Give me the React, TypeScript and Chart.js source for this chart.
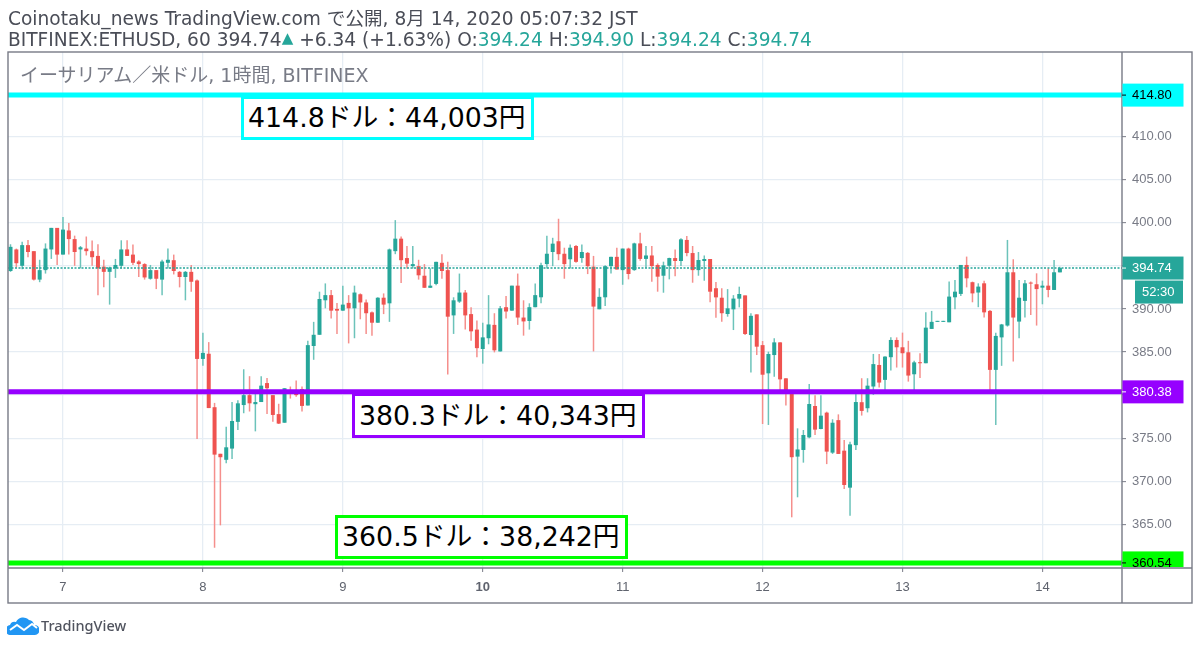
import React, { useEffect, useRef } from "react";
import Chart from "chart.js/auto";

const opens = [394.4,396.9,395.0,397.4,396.7,393.4,394.5,396.9,399.4,396.3,399.1,398.1,396.9,397.0,396.7,396.15,394.9,394.3,394.7,395.0,396.9,396.3,395.5,395.2,393.5,394.5,393.4,395.35,395.65,394.3,393.7,394.3,393.3,384.2,384.8,378.6,373.2,372.5,373.8,376.9,378.85,380.0,378.95,379.2,381.4,380.0,377.8,376.8,380.6,380.6,380.7,378.8,385.7,387.0,391.0,391.6,390.0,389.8,390.7,390.07,391.7,390.75,389.6,388.4,391.3,390.65,396.7,398.15,395.9,394.96,394.96,393.85,392.45,392.9,395.35,394.5,389.25,390.85,391.9,389.4,387.6,385.35,386.6,388.15,385.07,390.2,389.8,392.7,389.0,388.6,390.2,391.35,395.2,396.6,397.85,396.4,395.76,397.3,395.9,396.5,394.9,389.96,391.35,394.96,396.04,394.5,397.0,394.5,397.6,395.8,396.2,395.1,393.85,395.0,395.9,395.56,398.0,396.48,394.5,395.56,395.79,392.4,391.3,389.41,389.95,391.19,391.57,386.97,389.37,385.8,382.53,384.65,386.12,381.95,380.13,372.87,373.64,375.1,378.74,376.07,377.97,373.33,377.1,373.56,369.27,374.2,379.18,378.48,381.0,383.5,381.77,384.4,386.4,385.55,384.97,382.42,383.78,383.7,387.68,388.5,388.5,388.45,391.35,391.74,395.1,393.1,391.9,392.97,389.77,382.93,386.7,388.07,394.25,388.53,390.93,393.05,392.86,392.47,392.7,392.2,394.24];
const closes = [397.2,395.3,397.4,396.6,393.4,394.5,397.0,399.4,396.3,399.2,398.1,396.6,397.15,396.7,396.0,394.7,394.3,394.8,395.1,396.9,396.15,395.35,395.2,393.65,394.5,393.5,395.5,395.7,394.4,393.7,394.3,393.15,384.2,384.9,378.5,373.1,372.8,373.95,377.0,379.05,380.0,379.05,379.2,381.1,380.8,377.7,376.7,380.8,380.3,380.0,378.75,385.8,387.0,391.15,391.6,389.8,389.8,390.5,390.07,391.9,390.75,389.5,388.4,391.3,390.5,396.9,398.15,395.65,395.25,395.2,393.9,392.45,392.7,395.46,394.4,389.1,391.0,391.9,389.25,387.4,385.45,386.7,388.2,385.2,390.07,389.7,392.7,389.0,388.55,390.2,391.6,395.07,396.4,397.57,396.35,395.2,397.1,395.46,396.6,394.96,390.27,391.4,394.96,396.04,394.57,397.0,394.05,397.6,395.8,396.2,394.97,393.74,395.05,395.9,395.56,398.07,396.48,394.5,395.67,395.79,392.0,391.34,389.5,390.07,391.2,391.73,387.09,389.2,385.62,382.37,384.77,386.12,381.83,380.4,372.8,373.7,375.38,378.97,376.0,377.62,373.45,376.8,373.18,369.58,374.29,379.2,378.17,381.1,383.6,381.46,384.47,386.4,385.55,384.86,382.27,383.8,383.7,387.83,388.5,388.5,388.5,391.43,392.0,395.1,393.55,391.8,392.59,389.6,382.93,386.87,388.2,394.25,389.0,391.3,392.97,392.94,392.3,392.7,392.2,394.25,394.74];
const highs = [397.5,397.0,397.8,398.0,396.7,395.7,397.6,399.4,399.4,400.65,399.96,398.5,397.3,398.4,397.95,397.5,395.7,394.9,395.8,397.96,397.96,397.46,395.65,395.3,395.1,394.5,395.7,397.0,396.3,394.4,394.4,395.1,393.4,387.25,386.15,379.1,373.2,376.34,379.2,379.4,383.0,382.2,380.6,382.2,382.0,380.0,379.0,380.8,381.0,381.7,381.0,386.3,388.5,392.0,392.96,392.2,390.7,392.7,391.6,392.7,391.8,391.1,389.7,391.35,391.8,397.0,400.3,398.4,397.3,397.3,395.7,395.2,394.7,395.46,396.35,395.46,391.35,394.1,392.2,390.2,388.65,388.4,391.6,389.5,390.35,391.5,392.7,394.1,391.0,390.65,392.96,395.35,398.5,398.25,400.46,397.1,397.46,397.4,397.46,396.6,396.15,392.4,395.07,396.04,397.1,397.0,397.1,397.68,398.84,397.3,397.3,395.28,395.48,395.94,396.9,398.2,398.45,397.3,396.6,396.2,395.79,393.12,392.4,392.3,391.6,392.58,391.57,389.49,389.37,386.28,385.04,386.59,386.12,381.95,380.2,376.15,375.96,381.29,380.0,380.0,378.08,377.2,377.77,374.8,374.6,380.2,381.96,381.96,384.78,384.78,384.5,386.7,386.7,387.25,386.3,384.0,384.86,389.6,389.77,388.5,388.5,393.17,393.36,395.1,396.07,393.17,392.97,393.28,389.88,387.25,388.26,398.0,395.76,393.36,393.36,393.17,394.13,393.28,394.7,395.68,394.9];
const lows = [394.3,394.8,394.6,396.0,393.3,393.1,394.1,395.8,395.1,396.3,396.3,395.0,394.7,396.2,395.0,391.6,392.5,390.5,393.6,394.7,396.15,395.1,393.7,393.4,393.4,392.3,391.6,394.7,394.0,392.5,391.0,392.0,374.9,383.4,378.5,362.3,364.9,372.1,372.6,375.95,377.9,378.1,375.8,379.2,377.8,376.9,376.65,376.8,379.6,379.8,378.1,378.8,384.1,387.0,390.07,388.9,387.1,389.8,386.0,386.6,388.8,387.1,386.9,388.4,389.4,388.5,396.35,393.0,394.7,394.7,393.4,392.45,392.45,392.75,393.5,382.4,387.1,390.7,387.6,386.3,384.4,383.65,385.9,384.96,385.07,388.9,389.8,388.15,386.9,387.6,390.2,390.65,394.7,394.96,395.65,393.5,394.7,395.35,395.35,394.04,385.07,389.96,390.35,394.1,394.57,392.8,393.43,394.43,395.6,394.78,393.16,392.0,391.88,393.43,393.8,394.98,396.1,393.04,393.85,393.27,390.76,388.98,388.5,389.1,387.55,390.18,386.97,382.64,384.65,376.65,376.54,382.14,380.6,378.8,365.83,368.15,372.17,374.99,375.38,376.03,372.0,373.18,373.18,369.1,366.0,373.64,377.63,378.0,380.03,380.9,380.6,382.85,383.2,383.2,381.57,380.6,382.0,383.7,387.68,388.5,388.5,388.45,389.96,391.5,392.5,390.77,390.2,389.0,380.6,376.55,383.4,387.95,383.9,386.6,389.0,389.3,388.07,390.54,391.35,392.2,394.24];

const dayLabels = ["7", "8", "9", "10", "11", "12", "13", "14"];
const dayCandleIndex = [9, 33, 57, 81, 105, 129, 153, 177];
const boldDay = "10";
const priceTicks = [365, 370, 375, 380, 385, 390, 395, 400, 405, 410, 415];

const levelValues = [414.8, 380.38, 360.54];
const levelColors = ["#00ffff", "#9600ff", "#00ff00"];
const levelTextColors = ["#000000", "#ffffff", "#000000"];
const lastPrice = 394.74;
const countdown = "52:30";

const UP = "#26a69a";
const DOWN = "#ef5350";
const UP_WICK = "#6cc3ba";
const DOWN_WICK = "#f58f8c";
const FRAME = "#787b86";
const GRID = "#e6edf4";

const X_MIN = -0.43;
const X_MAX = 190.65;

const boxes = [
  { text: "414.8ドル：44,003円", color: "#00ffff", left: 241, top: 96, width: 293, height: 44 },
  { text: "380.3ドル：40,343円", color: "#9600ff", left: 352, top: 393, width: 293, height: 45 },
  { text: "360.5ドル：38,242円", color: "#00ff00", left: 335, top: 515, width: 293, height: 44 },
];

const framePlugin = {
  id: "frame",
  afterDraw(chart: any) {
    const { ctx, chartArea, scales } = chart;
    ctx.save();
    ctx.strokeStyle = FRAME;
    ctx.lineWidth = 1.4;
    ctx.strokeRect(8, chartArea.top, 1184, 603 - chartArea.top);
    ctx.beginPath();
    ctx.moveTo(chartArea.right, chartArea.top);
    ctx.lineTo(chartArea.right, 603);
    ctx.moveTo(8, chartArea.bottom);
    ctx.lineTo(1192, chartArea.bottom);
    ctx.stroke();

    const tag = (value: number, label: string, bg: string, fg: string) => {
      const y = scales.y.getPixelForValue(value);
      ctx.save();
      ctx.beginPath();
      ctx.rect(chartArea.right, chartArea.top, 71, chartArea.bottom - chartArea.top - 1);
      ctx.clip();
      ctx.fillStyle = bg;
      ctx.fillRect(chartArea.right + 0.5, y - 11.5, 61, 23);
      ctx.strokeStyle = fg === "#ffffff" ? "#ffffff" : "#000000";
      ctx.lineWidth = 1;
      ctx.beginPath();
      ctx.moveTo(chartArea.right, y);
      ctx.lineTo(chartArea.right + 4, y);
      ctx.stroke();
      ctx.fillStyle = fg;
      ctx.font = "13px 'Liberation Sans'";
      ctx.textBaseline = "middle";
      ctx.textAlign = "left";
      ctx.fillText(label, chartArea.right + 10, y + 0.5);
      ctx.restore();
    };
    levelValues.forEach((v, i) => tag(v, v.toFixed(2), levelColors[i], levelTextColors[i]));
    tag(lastPrice, lastPrice.toFixed(2), UP, "#ffffff");

    const yLast = scales.y.getPixelForValue(lastPrice);
    ctx.fillStyle = UP;
    ctx.fillRect(chartArea.right + 13, yLast + 12.5, 48, 23);
    ctx.fillStyle = "#ffffff";
    ctx.font = "13px 'Liberation Sans'";
    ctx.textBaseline = "middle";
    ctx.textAlign = "left";
    ctx.fillText(countdown, chartArea.right + 20, yLast + 24.5);
    ctx.restore();
  },
};

export default function App() {
  const ref = useRef<HTMLCanvasElement>(null);
  useEffect(() => {
    const candleIdx = opens.map((_, i) => i);
    const bodyColors = opens.map((o, i) => (closes[i] >= o ? UP : DOWN));
    const wickColors = opens.map((o, i) => (closes[i] >= o ? UP_WICK : DOWN_WICK));
    const hLine = (v: number, color: string, width: number, dash: number[] = []) => ({
      type: "line" as const,
      data: [{ x: X_MIN, y: v }, { x: X_MAX, y: v }],
      borderColor: color,
      borderWidth: width,
      borderDash: dash,
      pointRadius: 0,
      order: 1,
    });
    const chart = new Chart(ref.current!, {
      type: "bar",
      data: {
        datasets: [
          {
            data: candleIdx.map((i) => ({ x: i, y: [lows[i], highs[i]] })),
            backgroundColor: wickColors,
            grouped: false,
            maxBarThickness: 1.5,
            minBarLength: 1,
            order: 3,
          } as any,
          {
            data: candleIdx.map((i) => ({ x: i, y: [opens[i], closes[i]] })),
            backgroundColor: bodyColors,
            grouped: false,
            maxBarThickness: 4,
            minBarLength: 1,
            order: 2,
          } as any,
          hLine(lastPrice, UP, 1.5, [2, 1.5]),
          ...levelValues.map((v, i) => hLine(v, levelColors[i], 5)),
        ],
      },
      plugins: [framePlugin],
      options: {
        responsive: false,
        animation: false,
        events: [],
        layout: { padding: { left: 8, top: 52, right: 0, bottom: 0 } },
        plugins: { legend: { display: false }, tooltip: { enabled: false } },
        scales: {
          x: {
            type: "linear",
            offset: false,
            min: X_MIN,
            max: X_MAX,
            grid: { offset: false, color: GRID, lineWidth: 1.3, tickColor: FRAME, tickLength: 4, tickWidth: 1 },
            border: { display: false },
            afterBuildTicks: (s: any) => {
              s.ticks = dayCandleIndex.map((v) => ({ value: v }));
            },
            afterFit: (s: any) => {
              s.height = 79;
            },
            ticks: {
              autoSkip: false,
              maxRotation: 0,
              padding: 8,
              color: "#5f636e",
              font: (ctx: any) => ({
                family: "'Liberation Sans'",
                size: 13,
                weight: dayLabels[ctx.index] === boldDay ? "bold" : "normal",
              }),
              callback: (_: any, i: number) => dayLabels[i],
            },
          },
          y: {
            position: "right",
            min: 359.95,
            max: 419.8,
            grid: { color: GRID, lineWidth: 1.3, tickColor: FRAME, tickLength: 4, tickWidth: 1 },
            border: { display: false },
            afterBuildTicks: (s: any) => {
              s.ticks = priceTicks.map((v) => ({ value: v }));
            },
            afterFit: (s: any) => {
              s.width = 78;
            },
            ticks: {
              padding: 6,
              color: "#787b86",
              font: { family: "'Liberation Sans'", size: 13 },
              callback: (v: any) => Number(v).toFixed(2),
            },
          },
        },
      } as any,
    });
    return () => chart.destroy();
  }, []);

  const head: React.CSSProperties = {
    position: "absolute",
    left: 8,
    whiteSpace: "nowrap",
    fontFamily: "'DejaVu Sans','Noto Sans CJK JP',sans-serif",
    fontSize: 18.6,
    lineHeight: "20px",
    color: "#4a4d57",
  };
  const teal = { color: UP };
  return (
    <div style={{ position: "absolute", left: 0, top: 0, width: 1200, height: 647, background: "#fff", overflow: "hidden" }}>
      <canvas ref={ref} width={1200} height={647} style={{ position: "absolute", left: 0, top: 0, display: "block" }} />
      <div style={{ ...head, top: 9 }}>Coinotaku_news TradingView.com で公開, 8月 14, 2020 05:07:32 JST</div>
      <div style={{ ...head, top: 28 }}>
        BITFINEX:ETHUSD, 60 394.74<span style={{ ...teal, fontSize: 15, verticalAlign: 3 }}>▲</span> +6.34 (+1.63%) O:<span style={teal}>394.24</span> H:<span style={teal}>394.90</span> L:<span style={teal}>394.24</span> C:<span style={teal}>394.74</span>
      </div>
      <div style={{ ...head, left: 20, top: 65, fontSize: 19, color: "#787b86" }}>イーサリアム／米ドル, 1時間, BITFINEX</div>
      {boxes.map((b) => (
        <div
          key={b.text}
          style={{
            position: "absolute",
            left: b.left,
            top: b.top,
            width: b.width,
            height: b.height,
            boxSizing: "border-box",
            border: `3px solid ${b.color}`,
            background: "#fff",
            color: "#000",
            fontFamily: "'DejaVu Sans','Noto Sans CJK JP',sans-serif",
            fontSize: 26.8,
            lineHeight: `${b.height - 6}px`,
            paddingLeft: 4,
            whiteSpace: "nowrap",
          }}
        >
          {b.text}
        </div>
      ))}
      <svg style={{ position: "absolute", left: 7, top: 615 }} width={32} height={20} viewBox="0 0 32 20">
        <path d="M4 20 A5 5 0 0 1 3 10 A5 5 0 0 1 9 7 A8 8 0 0 1 22 5 A6 6 0 0 1 27 10 A5 5 0 0 1 28 20 Z" fill="#2196f3" />
        <path d="M3 15 L10 10 L17 15 L25 9 L30 13" fill="none" stroke="#fff" strokeWidth={2} />
      </svg>
      <div style={{ ...head, fontFamily: "'Noto Sans',sans-serif", left: 41, top: 615, fontSize: 14.5, fontWeight: 500, color: "#50535e" }}>TradingView</div>
    </div>
  );
}
